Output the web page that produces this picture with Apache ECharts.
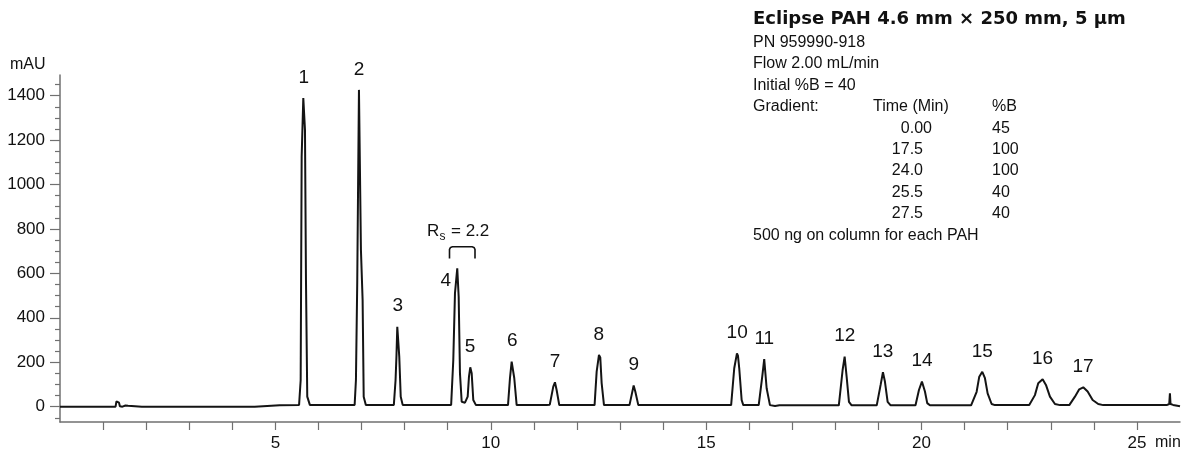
<!DOCTYPE html>
<html>
<head>
<meta charset="utf-8">
<script src="https://cdn.jsdelivr.net/npm/echarts@6/dist/echarts.min.js"></script>
<style>
html,body{margin:0;padding:0;background:#fff;}
#c{width:1186px;height:459px;}
</style>
</head>
<body>
<div id="c"></div>
<script>
// ---- data ----
const traceTime = [
  0,0.75,0.77,0.79,1.29,1.31,1.34,1.37,1.39,1.45,1.52,1.58,1.62,1.90,1.93,1.96,4.25,4.28,4.31,4.52,4.55,5.10,5.12,5.55,
  5.56,5.587,5.61,5.648,5.664,5.687,5.71,5.74,5.80,6.84,
  6.848,6.87,6.90,6.917,6.94,6.956,6.986,7.025,7.05,7.10,7.75,
  7.76,7.79,7.81,7.83,7.86,7.876,7.91,7.955,9.08,
  9.092,9.13,9.169,9.222,9.255,9.285,9.325,9.401,
  9.464,9.494,9.524,9.557,9.594,9.656,10.40,
  10.406,10.446,10.485,10.522,10.545,10.601,
  11.21,11.297,11.335,11.37,11.451,11.49,11.529,11.59,12.41,
  12.419,12.458,12.512,12.542,12.574,12.628,13.22,
  13.231,13.278,13.317,13.355,13.425,15.58,
  15.59,15.652,15.715,15.738,15.768,15.824,15.862,16.22,
  16.232,16.302,16.348,16.404,16.481,16.6,16.7,18.08,
  18.09,18.168,18.215,18.261,18.315,18.377,18.58,18.61,18.64,18.96,
  18.972,19.05,19.104,19.15,19.213,19.283,19.86,
  19.87,19.94,20.009,20.079,20.132,20.195,21.15,
  21.163,21.279,21.34,21.41,21.472,21.534,21.627,21.704,22.50,
  22.516,22.632,22.709,22.811,22.888,22.981,23.097,23.213,23.43,
  23.445,23.561,23.661,23.754,23.856,23.972,24.102,24.218,
  25.69,25.75,25.766,25.78,25.84,26
];
const traceSignal = [
  0,0,3,0,0,24,26,18,2,0,5,4,0,0,3,0,0,4,0,0,6,6,8,8,
  9,120,1126,1389,1390,1246,570,45,8,8,
  9,120,557,930,1426,1417,705,480,45,8,8,
  9,120,225,360,355,225,45,8,8,
  9,210,510,623,495,150,22,18,
  45,135,177,150,30,7,7,
  8,129,203,203,129,7,
  7,8,17,9,90,110,75,7,7,
  8,158,233,222,106,7,7,
  8,60,95,68,7,7,
  8,173,240,230,173,30,7,7,
  8,135,214,83,7,3,6,6,
  7,165,225,135,22,6,6,10,6,6,
  7,98,155,113,22,6,6,
  7,75,113,68,16,6,6,
  7,67,135,157,128,60,12,7,7,
  7,52,105,123,98,45,12,7,7,
  7,45,78,87,68,30,12,7,
  7,12,60,12,8,2
];
const peakNames  = ['1','2','3','4','5','6','7','8','9','10','11','12','13','14','15','16','17'];
const peakTime   = [5.66,6.94,7.84,9.22,9.52,10.50,11.49,12.51,13.32,15.72,16.35,18.22,19.10,20.01,21.41,22.81,23.75];
const peakHeight = [1390,1426,360,623,177,203,110,233,95,240,214,225,155,113,157,123,87];

const yMajorTicks = [0,200,400,600,800,1000,1200,1400];
const yMinorTicks = [-50,50,100,150,250,300,350,450,500,550,650,700,750,850,900,950,1050,1100,1150,1250,1300,1350,1450];
const xTicks = [1,2,3,4,5,6,7,8,9,10,11,12,13,14,15,16,17,18,19,20,21,22,23,24,25];
const xLabels = [5,10,15,20,25];

const infoTitle = 'Eclipse PAH 4.6 mm \u00d7 250 mm, 5 \u00b5m';
const infoLines = ['PN 959990-918','Flow 2.00 mL/min','Initial %B = 40'];
const gradientTimes = ['0.00','17.5','24.0','25.5','27.5'];
const gradientB = ['45','100','100','40','40'];
const footnote = '500 ng on column for each PAH';

// ---- chart ----
const FONT = '"Liberation Sans", Arial, sans-serif';
const AX = '#707070';
const TXT = '#111111';

const traceData = traceTime.map((t, i) => [t, traceSignal[i]]);
const labelData = peakTime.map((t, i) => {
  const item = { value: [t, peakHeight[i]], name: peakNames[i] };
  if (peakNames[i] === '4') item.label = { position: 'left', distance: 6, offset: [0, 12] };
  return item;
});

const graphics = [];
function txt(x, y, s, opt) {
  graphics.push({
    type: 'text', x: x, y: y, silent: true,
    style: Object.assign({ text: s, fill: TXT, font: '16px ' + FONT, textAlign: 'left', textVerticalAlign: 'middle' }, opt || {})
  });
}
txt(10, 65, 'mAU');
txt(1155, 443, 'min');
txt(753, 19, infoTitle, { font: 'bold 18px "DejaVu Sans", sans-serif' });
const rowY0 = 42.5, rowStep = 21.4;
infoLines.forEach((s, i) => txt(753, rowY0 + i * rowStep, s));
const gy = rowY0 + 3 * rowStep;
txt(753, gy, 'Gradient:');
txt(873, gy, 'Time (Min)');
txt(992, gy, '%B');
gradientTimes.forEach((s, i) => {
  txt(i === 0 ? 932 : 923, gy + (i + 1) * rowStep, s, { textAlign: 'right' });
  txt(992, gy + (i + 1) * rowStep, gradientB[i]);
});
txt(753, gy + 6 * rowStep, footnote);
// Rs annotation
txt(427, 231, 'R', { font: '17px ' + FONT });
txt(439.5, 237, 's', { font: '12px ' + FONT });
txt(451, 231, '= 2.2', { font: '17px ' + FONT });
graphics.push({
  type: 'polyline', silent: true,
  shape: { points: [[449.5,258.5],[449.5,249.5],[450.4,247.6],[452.3,246.7],[472.2,246.7],[474.1,247.6],[475,249.5],[475,258.5]] },
  style: { stroke: '#111111', lineWidth: 1.6, fill: null }
});

const chart = echarts.init(document.getElementById('c'), null, { renderer: 'canvas' });
chart.setOption({
  animation: false,
  backgroundColor: '#ffffff',
  textStyle: { fontFamily: FONT },
  grid: { left: 60, right: 6, top: 75, bottom: 37, containLabel: false },
  xAxis: {
    type: 'value', min: 0, max: 26,
    axisLine: { show: true, onZero: false, lineStyle: { color: AX, width: 1.5 } },
    axisTick: { show: true, customValues: xTicks, length: 8, lineStyle: { color: AX, width: 1.2 } },
    axisLabel: { customValues: xLabels, margin: 13, fontSize: 17, color: TXT, fontFamily: FONT, formatter: v => String(v) },
    splitLine: { show: false }
  },
  yAxis: [
    {
      type: 'value', min: -69, max: 1493, position: 'left',
      axisLine: { show: true, lineStyle: { color: AX, width: 1.5 } },
      axisTick: { show: true, customValues: yMajorTicks, length: 10, lineStyle: { color: AX, width: 1.2 } },
      axisLabel: { customValues: yMajorTicks, margin: 15, fontSize: 17, color: TXT, fontFamily: FONT, formatter: v => String(v) },
      splitLine: { show: false }
    },
    {
      type: 'value', min: -69, max: 1493, position: 'left', offset: 0,
      axisLine: { show: false },
      axisTick: { show: true, customValues: yMinorTicks, length: 5, lineStyle: { color: AX, width: 1.2 } },
      axisLabel: { show: false },
      splitLine: { show: false }
    }
  ],
  series: [
    {
      type: 'line', data: traceData, showSymbol: false, symbol: 'none',
      lineStyle: { color: '#141414', width: 2 }, z: 3, silent: true
    },
    {
      type: 'scatter', data: labelData, symbolSize: 0, silent: true, z: 4,
      itemStyle: { opacity: 1 },
      label: { show: true, position: 'top', distance: 11, formatter: p => p.name, fontSize: 19, color: TXT, fontFamily: FONT, opacity: 1 }
    }
  ],
  graphic: graphics
});
</script>
</body>
</html>
